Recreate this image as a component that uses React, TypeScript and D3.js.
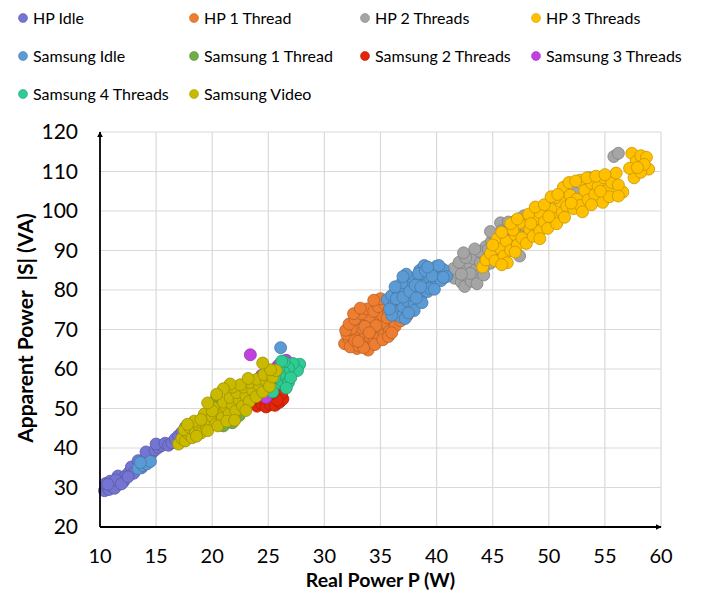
import React, { useEffect, useRef } from 'react';
import * as d3 from 'd3';

type Pt = [number, number];

const seriesNames = [
  'HP Idle', 'HP 1 Thread', 'HP 2 Threads', 'HP 3 Threads',
  'Samsung Idle', 'Samsung 1 Thread', 'Samsung 2 Threads', 'Samsung 3 Threads',
  'Samsung 4 Threads', 'Samsung Video',
];
const seriesColors = [
  '#7474D2', '#ED7D31', '#A5A5A5', '#FFC000',
  '#5B9BD5', '#70AD47', '#E1260A', '#C040E0',
  '#2ECB92', '#C9BA00',
];

const xTicks = [10, 15, 20, 25, 30, 35, 40, 45, 50, 55, 60];
const yTicks = [20, 30, 40, 50, 60, 70, 80, 90, 100, 110, 120];

const hpIdle: Pt[] = [
  [10.4, 29.2], [10.6, 30.1], [10.8, 29.5], [11.0, 30.4], [10.5, 31.0], [11.2, 31.2], [11.5, 30.6],
  [11.3, 29.8], [10.9, 31.6], [11.8, 31.8], [12.0, 32.4], [11.6, 32.9], [12.3, 33.0], [12.6, 33.8],
  [12.1, 31.5], [12.9, 34.2], [13.2, 34.9], [12.8, 35.2], [13.5, 35.6], [13.8, 36.1], [13.4, 36.8],
  [14.0, 37.2], [14.3, 38.0], [14.6, 38.6], [14.1, 39.0], [14.9, 39.5], [15.2, 40.1], [15.5, 40.6],
  [15.0, 41.0], [15.8, 41.2], [16.1, 40.7], [16.4, 41.3], [16.7, 42.3], [17.0, 43.1], [17.3, 44.0],
  [17.6, 45.2], [11.4, 31.9], [10.7, 30.8], [13.0, 33.6], [11.9, 30.9], [12.5, 32.7], [13.7, 35.0],
];
const hp1Thread: Pt[] = [
  [31.8, 66.4], [32.2, 67.6], [32.0, 68.8], [32.6, 66.0], [32.9, 65.2], [33.2, 66.6], [32.5, 69.8],
  [33.0, 68.2], [33.4, 67.4], [33.8, 66.2], [33.6, 69.0], [32.8, 71.0], [33.3, 70.4], [34.1, 68.0],
  [34.4, 66.8], [34.0, 70.6], [33.5, 72.0], [34.6, 69.4], [34.9, 67.8], [34.3, 71.8], [35.0, 70.6],
  [35.3, 68.6], [34.7, 72.8], [35.5, 71.6], [35.8, 69.6], [35.2, 73.6], [36.0, 72.6], [36.3, 70.8],
  [35.7, 74.6], [36.5, 73.8], [36.8, 72.2], [36.2, 75.6], [37.0, 75.0], [37.4, 73.6], [36.6, 77.0],
  [37.6, 76.4], [35.9, 78.0], [36.4, 79.2], [33.1, 73.4], [34.0, 73.2], [32.4, 70.2], [33.9, 64.8],
  [32.3, 65.6], [32.7, 67.2], [33.1, 65.8], [33.5, 65.4], [34.5, 66.2], [35.2, 67.4], [35.7, 68.2],
  [36.0, 69.2], [31.9, 69.8], [32.2, 71.4], [32.7, 72.6], [33.3, 74.0], [33.8, 75.2], [34.4, 74.6],
  [34.8, 75.8], [35.4, 76.4], [35.0, 77.8], [34.6, 71.0], [33.6, 70.8], [33.0, 67.0], [34.0, 69.2],
  [35.6, 73.0], [32.6, 74.0], [33.2, 75.4], [34.4, 77.4],
];
const hp2Threads: Pt[] = [
  [41.6, 83.0], [41.9, 84.4], [42.2, 82.0], [42.5, 80.9], [42.4, 85.8], [42.8, 83.4], [43.1, 82.2],
  [42.9, 86.8], [43.4, 85.0], [43.7, 83.6], [43.3, 88.0], [43.9, 87.0], [44.2, 85.6], [44.0, 89.4],
  [44.5, 88.4], [44.8, 86.8], [44.4, 91.0], [45.0, 90.2], [45.3, 88.8], [44.9, 92.4], [45.6, 91.6],
  [45.9, 90.0], [45.5, 94.0], [46.0, 96.2], [46.3, 93.2], [46.6, 95.4], [47.0, 97.4], [47.4, 98.0],
  [47.3, 94.6], [47.8, 96.6], [48.2, 95.0], [48.6, 97.4], [49.0, 95.6], [47.4, 88.6], [46.8, 90.8],
  [48.8, 99.4], [50.0, 100.4], [51.2, 102.2], [52.4, 104.6], [53.6, 108.4], [55.8, 113.8],
  [56.2, 114.6], [43.6, 81.6], [45.7, 97.0],
  [41.5, 85.4], [42.0, 87.0], [42.6, 88.2], [43.0, 84.2], [43.8, 89.8], [44.6, 90.2], [45.2, 93.6],
  [45.8, 95.0], [46.4, 97.2], [47.0, 95.8], [47.8, 98.8], [48.4, 98.4], [43.4, 90.4], [42.2, 84.0],
  [44.2, 83.8], [42.4, 89.4], [44.8, 94.8],
];
const hp3Threads: Pt[] = [
  [44.1, 85.8], [44.4, 87.6], [44.8, 89.2], [45.2, 87.4], [45.4, 93.0], [45.7, 90.4], [46.0, 88.6],
  [46.3, 86.9], [46.2, 92.4], [46.6, 90.0], [47.0, 94.0], [47.2, 91.4], [47.6, 93.2], [47.8, 96.6],
  [48.0, 91.8], [48.3, 95.4], [48.6, 93.6], [48.9, 98.0], [49.2, 95.0], [49.2, 99.6], [49.6, 97.2],
  [49.9, 95.6], [50.2, 100.4], [50.4, 98.2], [50.7, 96.8], [51.0, 102.4], [51.3, 106.0], [51.2, 99.6],
  [51.6, 101.2], [51.9, 104.0], [52.2, 100.6], [52.5, 103.0], [52.8, 107.8], [52.8, 101.4],
  [53.2, 105.2], [53.5, 102.8], [53.8, 107.0], [54.1, 104.2], [54.4, 106.2], [54.8, 102.2],
  [54.9, 108.4], [55.3, 105.4], [55.6, 107.2], [56.0, 109.6], [56.6, 104.8], [56.2, 106.6],
  [57.4, 114.6], [57.8, 112.6], [58.2, 114.0], [58.7, 113.6], [58.9, 110.6], [57.6, 108.4],
  [58.2, 109.8], [57.2, 110.8], [58.5, 111.8], [57.9, 111.0], [47.4, 97.0], [50.6, 103.4], [46.8, 95.2],
  [45.0, 91.4], [45.8, 94.6], [46.6, 96.8], [47.2, 98.0], [48.2, 99.2], [48.8, 101.0], [49.6, 101.6],
  [50.2, 103.6], [50.8, 104.2], [51.8, 107.2], [52.4, 107.6], [53.4, 108.4], [54.2, 108.8],
  [55.0, 109.2], [53.0, 99.8], [53.8, 101.6], [55.4, 103.6], [56.2, 103.8], [54.6, 105.0],
  [50.0, 98.6], [48.4, 96.8], [47.0, 89.6], [45.8, 86.4], [49.2, 93.0], [51.4, 98.4], [52.0, 102.0],
];
const samsungIdle: Pt[] = [
  [13.4, 34.8], [13.8, 35.6], [14.2, 36.0], [14.5, 36.6], [13.6, 36.3], [26.1, 65.4],
  [35.6, 77.6], [36.0, 78.6], [36.2, 76.4], [36.5, 74.6], [36.8, 73.2], [37.2, 72.8], [37.0, 75.8],
  [36.6, 79.6], [37.4, 77.2], [37.2, 80.4], [37.8, 78.6], [37.6, 81.6], [38.0, 76.2], [38.2, 80.0],
  [37.9, 83.0], [38.4, 82.0], [38.6, 78.4], [38.8, 84.0], [39.0, 81.2], [39.2, 79.6], [38.5, 85.0],
  [39.4, 83.2], [39.6, 85.4], [39.8, 82.0], [40.2, 84.4], [40.0, 86.0], [40.6, 85.2], [40.9, 83.4],
  [39.4, 80.4], [38.0, 74.8], [36.9, 81.8], [37.5, 74.2], [38.7, 76.8], [40.4, 82.4], [36.3, 80.8],
  [38.9, 86.2], [37.3, 84.0], [36.0, 73.6],
  [35.8, 75.2], [36.4, 77.8], [37.0, 78.2], [37.6, 79.6], [38.2, 78.0], [38.4, 84.2], [39.0, 84.8],
  [39.6, 83.6], [40.2, 86.2], [39.2, 85.8], [38.1, 81.2], [37.0, 83.4], [39.8, 80.2], [40.6, 83.2],
  [38.6, 80.8],
];
const samsung1Thread: Pt[] = [
  [18.6, 44.2], [19.4, 46.0], [20.2, 47.6], [20.8, 48.4], [21.4, 47.2], [21.6, 49.2], [21.0, 45.6],
  [20.4, 52.9], [22.0, 50.6], [19.8, 49.0], [22.4, 48.2], [21.8, 46.4],
];
const samsung2Threads: Pt[] = [
  [23.6, 51.6], [24.0, 50.6], [24.4, 51.2], [24.8, 50.4], [25.2, 51.0], [25.6, 50.8], [26.0, 51.6],
  [26.3, 52.4], [26.2, 53.8], [25.8, 52.2], [24.6, 52.6], [25.0, 53.2], [23.9, 52.8], [25.4, 54.0],
  [24.2, 53.8],
];
const samsung3Threads: Pt[] = [
  [23.4, 63.6], [26.6, 62.2], [24.2, 54.4], [24.6, 56.0], [25.0, 57.6], [25.4, 59.2], [24.8, 52.8],
  [25.8, 60.6], [24.4, 58.4], [25.2, 55.2], [26.0, 61.2],
];
const samsung4Threads: Pt[] = [
  [25.4, 55.2], [25.8, 56.4], [26.2, 57.0], [26.6, 58.2], [27.0, 59.4], [27.4, 60.6], [27.8, 61.2],
  [27.6, 59.6], [27.2, 61.4], [26.8, 60.2], [26.4, 59.2], [26.0, 58.6], [25.6, 57.8], [26.4, 61.8],
  [26.8, 56.6], [27.0, 57.8], [25.9, 60.0], [26.6, 55.2], [25.4, 54.2], [26.2, 62.0],
];
const samsungVideo: Pt[] = [
  [17.0, 41.0], [17.3, 42.4], [17.6, 41.8], [17.9, 43.5], [17.5, 44.6], [18.2, 42.6], [18.0, 45.2],
  [18.5, 44.0], [18.8, 45.6], [18.4, 46.8], [19.0, 43.8], [19.2, 47.5], [19.5, 45.2], [19.8, 46.6],
  [19.3, 48.6], [20.0, 48.0], [20.3, 46.0], [20.6, 49.2], [20.1, 50.2], [20.9, 47.6], [21.2, 50.4],
  [21.5, 48.6], [21.0, 51.6], [21.8, 51.0], [22.1, 49.4], [21.6, 52.8], [22.4, 52.2], [22.7, 50.6],
  [22.2, 54.0], [23.0, 53.2], [23.3, 51.8], [22.8, 55.4], [23.6, 54.6], [23.9, 53.0], [23.4, 56.6],
  [24.2, 55.8], [24.5, 54.2], [24.0, 57.4], [24.8, 57.0], [25.1, 55.6], [24.6, 58.6], [25.4, 58.0],
  [25.7, 59.6], [25.2, 59.8], [24.5, 61.5], [18.6, 43.0], [19.6, 44.4], [20.5, 45.6], [21.3, 46.8],
  [19.0, 47.2], [20.0, 49.4], [21.8, 55.4], [22.5, 56.0], [23.2, 57.6], [17.8, 46.0],
  [21.6, 56.2], [21.0, 55.0], [20.4, 53.6], [19.6, 51.4], [22.0, 47.0], [23.0, 49.5],
];

const seriesData: Pt[][] = [
  hpIdle, hp1Thread, hp2Threads, hp3Threads,
  samsungIdle, samsung1Thread, samsung2Threads, samsung3Threads,
  samsung4Threads, samsungVideo,
];

const FONT = 'Lato, "Open Sans", sans-serif';

const ScatterChart = () => {
  const svgRef = useRef<SVGSVGElement>(null);

  useEffect(() => {
    const W = 710, H = 590;
    const plot = { left: 100, right: 661, top: 132, bottom: 527 };

    const svg = d3.select(svgRef.current).attr('width', W).attr('height', H).html('');
    svg.append('rect').attr('width', W).attr('height', H).attr('fill', '#fff');

    const x = d3.scaleLinear().domain([10, 60]).range([plot.left, plot.right]);
    const y = d3.scaleLinear().domain([20, 120]).range([plot.bottom, plot.top]);

    // grid
    const grid = svg.append('g').attr('stroke', '#D9D9D9').attr('stroke-width', 1.2);
    xTicks.slice(1).forEach(t => {
      grid.append('line').attr('x1', x(t)).attr('x2', x(t)).attr('y1', plot.top).attr('y2', plot.bottom);
    });
    yTicks.slice(1).forEach(t => {
      grid.append('line').attr('x1', plot.left).attr('x2', plot.right).attr('y1', y(t)).attr('y2', y(t));
    });

    // points
    seriesData.forEach((pts, i) => {
      const c = seriesColors[i];
      svg.append('g')
        .selectAll('circle')
        .data(pts)
        .enter()
        .append('circle')
        .attr('cx', d => x(d[0]))
        .attr('cy', d => y(d[1]))
        .attr('r', 6)
        .attr('fill', c)
        .attr('stroke', d3.color(c)!.darker(0.7).toString())
        .attr('stroke-width', 0.8);
    });

    // axes with arrows
    svg.append('defs').append('marker')
      .attr('id', 'arrow')
      .attr('viewBox', '0 0 10 10')
      .attr('refX', 9).attr('refY', 5)
      .attr('markerWidth', 6).attr('markerHeight', 6)
      .attr('markerUnits', 'userSpaceOnUse')
      .attr('orient', 'auto')
      .append('path').attr('d', 'M0,0 L10,5 L0,10 Z').attr('fill', '#000');
    svg.append('line')
      .attr('x1', plot.left).attr('y1', plot.bottom).attr('x2', plot.right).attr('y2', plot.bottom)
      .attr('stroke', '#000').attr('stroke-width', 1.8).attr('marker-end', 'url(#arrow)');
    svg.append('line')
      .attr('x1', plot.left).attr('y1', plot.bottom).attr('x2', plot.left).attr('y2', plot.top)
      .attr('stroke', '#000').attr('stroke-width', 1.8).attr('marker-end', 'url(#arrow)');

    // tick labels
    svg.append('g').selectAll('text').data(xTicks).enter().append('text')
      .attr('x', d => x(d)).attr('y', 563)
      .attr('text-anchor', 'middle')
      .style('font-family', FONT).style('font-size', '20px').attr('fill', '#000')
      .text(d => d);
    svg.append('g').selectAll('text').data(yTicks).enter().append('text')
      .attr('x', 78).attr('y', d => y(d)).attr('dy', '0.35em')
      .attr('text-anchor', 'end')
      .style('font-family', FONT).style('font-size', '21px').attr('fill', '#000')
      .text(d => d);

    // axis titles
    svg.append('text')
      .attr('x', (plot.left + plot.right) / 2).attr('y', 587)
      .attr('text-anchor', 'middle')
      .style('font-family', FONT).style('font-size', '19.5px').style('font-weight', 'bold')
      .text('Real Power P (W)');
    svg.append('text')
      .attr('transform', `translate(33, 328) rotate(-90)`)
      .attr('text-anchor', 'middle')
      .style('font-family', FONT).style('font-size', '21px').style('font-weight', 'bold')
      .style('white-space', 'pre')
      .text('Apparent Power  |S| (VA)');

    // legend
    const legend = svg.append('g');
    seriesNames.forEach((name, i) => {
      const col = i < 4 ? i : (i - 4) % 4;
      const row = i < 4 ? 0 : i < 8 ? 1 : 2;
      const lx = 23 + col * 171;
      const ly = 18 + row * 38;
      legend.append('circle').attr('cx', lx).attr('cy', ly).attr('r', 4.5)
        .attr('fill', seriesColors[i])
        .attr('stroke', d3.color(seriesColors[i])!.darker(0.5).toString()).attr('stroke-width', 0.6);
      legend.append('text').attr('x', lx + 10).attr('y', ly).attr('dy', '0.35em')
        .style('font-family', FONT).style('font-size', '16px').attr('fill', '#000')
        .text(name);
    });
  }, []);

  return <svg ref={svgRef} style={{ position: 'absolute', left: 0, top: 0, display: 'block' }} />;
};

export default function App() {
  return <ScatterChart />;
}
